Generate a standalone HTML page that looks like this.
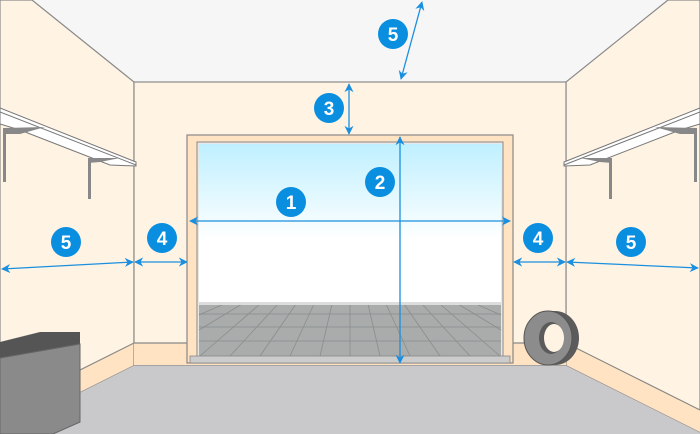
<!DOCTYPE html>
<html><head><meta charset="utf-8"><style>html,body{margin:0;padding:0;background:#fff}svg{display:block}</style></head>
<body>
<svg width="700" height="434" viewBox="0 0 700 434" xmlns="http://www.w3.org/2000/svg" font-family="Liberation Sans, sans-serif">
<defs>
<linearGradient id="sky" x1="0" y1="0" x2="0" y2="1"><stop offset="0" stop-color="#bff0ff"/><stop offset="0.6" stop-color="#ffffff"/></linearGradient>
<marker id="ah" viewBox="0 0 10 10" refX="9" refY="5" markerWidth="7" markerHeight="7" orient="auto-start-reverse"><path d="M0,0 L10,5 L0,10 L3,5z" fill="#1a8fdf"/></marker>
</defs>
<rect width="700" height="434" fill="#f6f6f6"/>
<!-- floor -->
<polygon points="134,365 566,365 700,432 700,434 0,434 0,432" fill="#c9c9cb"/>
<!-- left wall -->
<polygon points="0,0 32,0 134,82 134,365 0,432" fill="#fff3e4" stroke="#8a8a8a" stroke-width="1.2"/>
<polygon points="134,343 134,365 0,432 0,410" fill="#ffe3c2"/>
<line x1="134" y1="343" x2="0" y2="410" stroke="#888" stroke-width="1.2"/>
<!-- right wall -->
<polygon points="700,0 668,0 566,82 566,365 700,432" fill="#fff3e4" stroke="#8a8a8a" stroke-width="1.2"/>
<polygon points="566,343 566,365 700,432 700,410" fill="#ffe3c2"/>
<line x1="566" y1="343" x2="700" y2="410" stroke="#888" stroke-width="1.2"/>
<!-- back wall -->
<rect x="134" y="82" width="432" height="283" fill="#fff3e4" stroke="#8a8a8a" stroke-width="1.2"/>
<rect x="134" y="343" width="432" height="22" fill="#ffe3c2"/>
<line x1="134" y1="343" x2="566" y2="343" stroke="#888" stroke-width="1.2"/>
<!-- door frame -->
<rect x="187" y="135" width="326" height="228" fill="#ffe3c2" stroke="#888" stroke-width="1.2"/>
<rect x="197" y="142" width="306" height="220" fill="#e8e8e8" stroke="#888"/>
<rect x="199" y="144" width="302" height="160" fill="url(#sky)"/>
<rect x="199" y="304" width="302" height="52" fill="#a9acab"/>
<g stroke="#8a8d8c" stroke-width="0.8">
<line x1="199" y1="314" x2="501" y2="314"/><line x1="199" y1="327" x2="501" y2="327"/><line x1="199" y1="341" x2="501" y2="341"/>
<line x1="350" y1="304" x2="350" y2="356"/>
<line x1="332" y1="304" x2="320" y2="356"/><line x1="314" y1="304" x2="290" y2="356"/><line x1="296" y1="304" x2="260" y2="356"/><line x1="278" y1="304" x2="230" y2="356"/><line x1="260" y1="304" x2="200" y2="356"/><line x1="242" y1="304" x2="199" y2="330"/><line x1="224" y1="304" x2="199" y2="315"/>
<line x1="368" y1="304" x2="380" y2="356"/><line x1="386" y1="304" x2="410" y2="356"/><line x1="404" y1="304" x2="440" y2="356"/><line x1="422" y1="304" x2="470" y2="356"/><line x1="440" y1="304" x2="500" y2="356"/><line x1="458" y1="304" x2="501" y2="330"/><line x1="476" y1="304" x2="501" y2="315"/>
</g>
<rect x="199" y="302" width="302" height="3" fill="#ddd"/>
<rect x="190" y="356" width="320" height="7" fill="#ccc" stroke="#888" stroke-width="0.8"/>
<!-- shelves left -->
<polygon points="0,108 136,162 136,166 110,165 20,130 0,124" fill="#fff" stroke="#777"/>
<line x1="0" y1="112" x2="136" y2="165" stroke="#777"/>
<rect x="3" y="128" width="3" height="54" fill="#888"/>
<polygon points="4,128 45,127 20,134 4,134" fill="#888"/>
<rect x="88" y="158" width="3" height="41" fill="#888"/>
<polygon points="88,158 120,158 100,162 88,163" fill="#888"/>
<!-- shelves right -->
<polygon points="700,108 564,162 564,166 590,165 680,130 700,124" fill="#fff" stroke="#777"/>
<line x1="700" y1="112" x2="564" y2="165" stroke="#777"/>
<rect x="694" y="128" width="3" height="54" fill="#888"/>
<polygon points="696,128 655,127 680,134 696,134" fill="#888"/>
<rect x="609" y="158" width="3" height="41" fill="#888"/>
<polygon points="612,158 580,158 600,162 612,163" fill="#888"/>
<!-- cabinet -->
<polygon points="0,342 40,332 80,332 80,344 0,358" fill="#555"/>
<polygon points="0,358 80,344 80,422 53,434 0,434" fill="#8a8a8a" stroke="#666"/>
<!-- tire -->
<ellipse cx="555" cy="338" rx="24" ry="27" fill="#5b5b5b"/>
<ellipse cx="548" cy="338" rx="24" ry="27" fill="#8c8c8c" stroke="#555"/>
<ellipse cx="551" cy="338" rx="12" ry="16" fill="#5b5b5b"/>
<ellipse cx="554" cy="338" rx="10" ry="14" fill="#fff3e4"/>
<!-- arrows -->
<g stroke="#1a8fdf" stroke-width="1.3" fill="none" marker-start="url(#ah)" marker-end="url(#ah)">
<line x1="401" y1="79" x2="422" y2="2"/>
<line x1="349" y1="84" x2="349" y2="134"/>
<line x1="400" y1="137" x2="400" y2="363"/>
<line x1="190" y1="221" x2="510" y2="221"/>
<line x1="135" y1="262" x2="187" y2="262"/>
<line x1="2" y1="269" x2="133" y2="262"/>
<line x1="514" y1="262" x2="565" y2="262"/>
<line x1="567" y1="262" x2="698" y2="268"/>
</g>
<g fill="#0a8ee0"><circle cx="393" cy="34" r="15"/><circle cx="329" cy="108" r="15"/><circle cx="380" cy="182" r="15"/><circle cx="291" cy="202" r="15"/><circle cx="162" cy="238" r="15"/><circle cx="538" cy="238" r="15"/><circle cx="66" cy="242" r="15"/><circle cx="631" cy="242" r="15"/></g>
<g fill="#fff" font-weight="bold" font-size="19" text-anchor="middle">
<text x="393" y="41">5</text><text x="329" y="115">3</text><text x="380" y="189">2</text><text x="291" y="209">1</text><text x="162" y="245">4</text><text x="538" y="245">4</text><text x="66" y="249">5</text><text x="631" y="249">5</text>
</g>
</svg>
</body></html>
